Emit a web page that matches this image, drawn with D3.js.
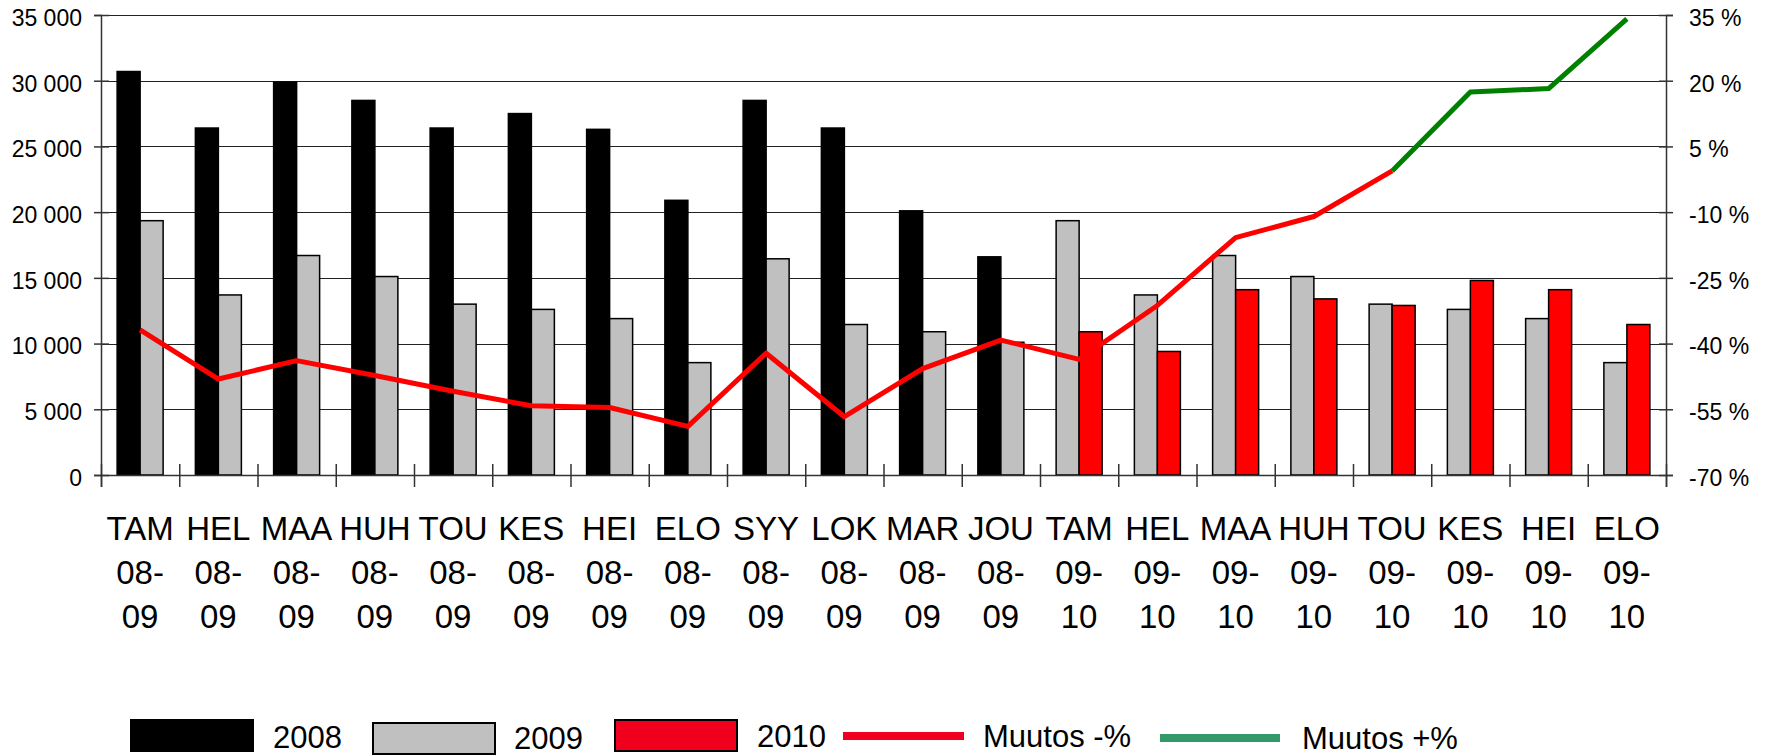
<!DOCTYPE html>
<html>
<head>
<meta charset="utf-8">
<script src="https://cdn.jsdelivr.net/npm/d3@7"></script>
<style>
  body { margin: 0; background: #fff; }
  svg { display: block; font-family: "Liberation Sans", Arial, sans-serif; }
</style>
</head>
<body>
<svg id="chart" width="1768" height="756"></svg>
<script>
// month labels, period labels
const months = ["TAM", "HEL", "MAA", "HUH", "TOU", "KES", "HEI", "ELO", "SYY", "LOK", "MAR", "JOU",
  "TAM", "HEL", "MAA", "HUH", "TOU", "KES", "HEI", "ELO"];
const periods = ["08-09", "08-09", "08-09", "08-09", "08-09", "08-09", "08-09", "08-09", "08-09", "08-09", "08-09", "08-09",
  "09-10", "09-10", "09-10", "09-10", "09-10", "09-10", "09-10", "09-10"];

const v2008 = [30700, 26400, 29900, 28500, 26400, 27500, 26300, 20900, 28500, 26400, 20100, 16600];
const v2009 = [19350, 13700, 16700, 15100, 13000, 12600, 11900, 8550, 16450, 11450, 10900, 10100];
const v2010 = [10900, 9400, 14100, 13400, 12900, 14800, 14100, 11450];

// change %, red part (bands 1-17) and green part (bands 17-20)
const changeNeg = [-36.9, -48.1, -43.9, -47.3, -50.9, -54.2, -54.6, -58.9, -42.2, -56.7, -45.7, -39.2,
  -43.6, -31.3, -15.8, -11.0, -0.6];
const changePos = [-0.6, 17.4, 18.2, 34.1];
const changePosStart = 16;

const leftTicks = [0, 5000, 10000, 15000, 20000, 25000, 30000, 35000];
const rightTicks = [-70, -55, -40, -25, -10, 5, 20, 35];

const colors = { 2008: "#000000", 2009: "#c0c0c0", 2010: "#ff0000" };

const svg = d3.select("#chart");
const pLeft = 101, pRight = 1666, pTop = 15, pBottom = 475;

const x = d3.scaleBand().domain(d3.range(months.length)).range([pLeft, pRight]);
const xEdge = d3.scaleLinear().domain([0, months.length]).range([pLeft, pRight]);
const y = d3.scaleLinear().domain([0, 35000]).range([pBottom, pTop]);
const yR = d3.scaleLinear().domain([-70, 35]).range([pBottom, pTop]);

const fmt = d3.formatLocale({ decimal: ",", thousands: " ", grouping: [3], currency: ["", ""] }).format(",");

// grid
svg.append("g")
  .selectAll("line")
  .data(leftTicks.slice(1))
  .join("line")
  .attr("x1", pLeft).attr("x2", pRight)
  .attr("y1", d => Math.round(y(d)) + 0.5).attr("y2", d => Math.round(y(d)) + 0.5)
  .attr("stroke", "#222").attr("stroke-width", 1);

// bars: left slot / right slot per category
const bars = [];
months.forEach((m, i) => {
  if (i < 12) {
    bars.push({ i, slot: 0, year: 2008, v: v2008[i] });
    bars.push({ i, slot: 1, year: 2009, v: v2009[i] });
  } else {
    bars.push({ i, slot: 0, year: 2009, v: v2009[i - 12] });
    bars.push({ i, slot: 1, year: 2010, v: v2010[i - 12] });
  }
});
const barW = 23;
svg.append("g")
  .selectAll("rect")
  .data(bars)
  .join("rect")
  .attr("x", d => x(d.i) + x.bandwidth() / 2 - barW + d.slot * barW)
  .attr("y", d => y(d.v))
  .attr("width", barW)
  .attr("height", d => pBottom - y(d.v))
  .attr("fill", d => colors[d.year])
  .attr("stroke", "#000")
  .attr("stroke-width", 1.5);

// axes
const axisL = svg.append("g")
  .attr("transform", `translate(${pLeft},0)`)
  .call(d3.axisLeft(y).tickValues(leftTicks).tickFormat(fmt).tickSize(7).tickPadding(12));
axisL.selectAll(".tick line").attr("x1", 8);
const axisR = svg.append("g")
  .attr("transform", `translate(${pRight},0)`)
  .call(d3.axisRight(yR).tickValues(rightTicks).tickFormat(d => d + " %").tickSize(7).tickPadding(16));
axisR.selectAll(".tick line").attr("x1", -7);
const axisB = svg.append("g")
  .attr("transform", `translate(0,${pBottom})`)
  .call(d3.axisBottom(xEdge).tickValues(d3.range(months.length + 1)).tickFormat("").tickSize(12));
axisB.selectAll(".tick line").attr("y1", -11);

[axisL, axisR, axisB].forEach(g => {
  g.select(".domain").attr("stroke", "#333").attr("stroke-width", 1.5);
  g.selectAll(".tick line").attr("stroke", "#333").attr("stroke-width", 1.5);
  g.selectAll(".tick text").attr("font-size", 23).attr("fill", "#000")
    .attr("font-family", "'Liberation Sans', Arial, sans-serif")
    .attr("dy", "0.45em");
});

// category labels
const lab = svg.append("g")
  .selectAll("text")
  .data(months)
  .join("text")
  .attr("text-anchor", "middle")
  .attr("font-size", 33)
  .attr("fill", "#000");
lab.append("tspan").attr("x", (d, i) => x(i) + x.bandwidth() / 2).attr("y", 540).text(d => d);
lab.append("tspan").attr("x", (d, i) => x(i) + x.bandwidth() / 2).attr("y", 584).text((d, i) => periods[i].slice(0, 3));
lab.append("tspan").attr("x", (d, i) => x(i) + x.bandwidth() / 2).attr("y", 628).text((d, i) => periods[i].slice(3));

// change lines
const cx = i => x(i) + x.bandwidth() / 2;
svg.append("path")
  .datum(changeNeg)
  .attr("d", d3.line().x((d, i) => cx(i)).y(d => yR(d)))
  .attr("fill", "none").attr("stroke", "#ff0000").attr("stroke-width", 5)
  .attr("stroke-linejoin", "round");
svg.append("path")
  .datum(changePos)
  .attr("d", d3.line().x((d, i) => cx(i + changePosStart)).y(d => yR(d)))
  .attr("fill", "none").attr("stroke", "#008000").attr("stroke-width", 5)
  .attr("stroke-linejoin", "round");

// legend
const legend = svg.append("g").attr("font-size", 31).attr("fill", "#000");
const boxes = [
  { year: 2008, x: 131, y: 720, tx: 273, ty: 748, fill: "#000" },
  { year: 2009, x: 373, y: 723, tx: 514, ty: 749, fill: "#c0c0c0" },
  { year: 2010, x: 615, y: 720, tx: 757, ty: 747, fill: "#f0001c" }
];
boxes.forEach(b => {
  legend.append("rect").attr("x", b.x).attr("y", b.y).attr("width", 122).attr("height", 31)
    .attr("fill", b.fill).attr("stroke", "#000").attr("stroke-width", 2);
  legend.append("text").attr("x", b.tx).attr("y", b.ty).text(b.year);
});
const lineItems = [
  { name: "Muutos -%", x1: 843, x2: 964, y: 736, tx: 983, ty: 747, color: "#f0001c" },
  { name: "Muutos +%", x1: 1160, x2: 1280, y: 738, tx: 1302, ty: 749, color: "#339966" }
];
lineItems.forEach(l => {
  legend.append("line").attr("x1", l.x1).attr("x2", l.x2).attr("y1", l.y).attr("y2", l.y)
    .attr("stroke", l.color).attr("stroke-width", 8);
  legend.append("text").attr("x", l.tx).attr("y", l.ty).text(l.name);
});
</script>
</body>
</html>
